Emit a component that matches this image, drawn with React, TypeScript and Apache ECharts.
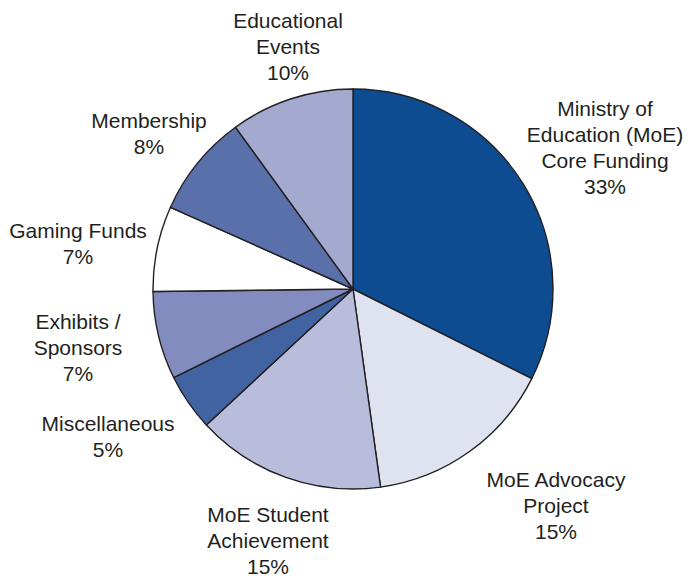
import React, { useEffect, useRef } from "react";
import * as echarts from "echarts";

const categories = [
  "Ministry of\nEducation (MoE)\nCore Funding",
  "MoE Advocacy\nProject",
  "MoE Student\nAchievement",
  "Miscellaneous",
  "Exhibits /\nSponsors",
  "Gaming Funds",
  "Membership",
  "Educational\nEvents",
];
const values = [32.4, 15.4, 15.3, 4.6, 7.1, 6.9, 8.3, 10.0];
const percentLabels = ["33%", "15%", "15%", "5%", "7%", "7%", "8%", "10%"];
const colors = ["#0e4c92", "#dfe3f0", "#b8bddb", "#4263a2", "#838cbf", "#ffffff", "#5a70ab", "#a4aacf"];

// label anchor positions (center of each label block), in px
const labelPos: [number, number][] = [
  [605, 147],
  [556, 505],
  [268, 540],
  [108, 436],
  [78, 347],
  [78, 243],
  [149, 133],
  [288, 46],
];

export default function App() {
  const ref = useRef<HTMLDivElement>(null);
  useEffect(() => {
    if (!ref.current) return;
    const chart = echarts.init(ref.current, undefined, { renderer: "svg" });
    chart.setOption({
      animation: false,
      backgroundColor: "#ffffff",
      series: [
        {
          type: "pie",
          center: [353, 289],
          radius: 200,
          startAngle: 90,
          clockwise: true,
          data: categories.map((name, i) => ({
            name,
            value: values[i],
            itemStyle: { color: colors[i] },
          })),
          itemStyle: { borderColor: "#231f20", borderWidth: 1.4 },
          label: {
            show: true,
            position: "outside",
            formatter: (p: any) => p.name + "\n" + percentLabels[p.dataIndex],
            fontFamily: "Liberation Sans, Arial, sans-serif",
            fontSize: 21,
            lineHeight: 26,
            color: "#231f20",
            align: "center",
            overflow: "none",
            width: 300,
          },
          labelLine: { show: false },
          labelLayout: (params: any) => {
            const pos = labelPos[params.dataIndex];
            return { x: pos[0], y: pos[1], align: "center", verticalAlign: "middle" };
          },
          emphasis: { disabled: true },
        },
      ],
    });
    return () => chart.dispose();
  }, []);
  return (
    <div
      ref={ref}
      style={{ position: "fixed", left: 0, top: 0, width: "692px", height: "577px" }}
    />
  );
}
